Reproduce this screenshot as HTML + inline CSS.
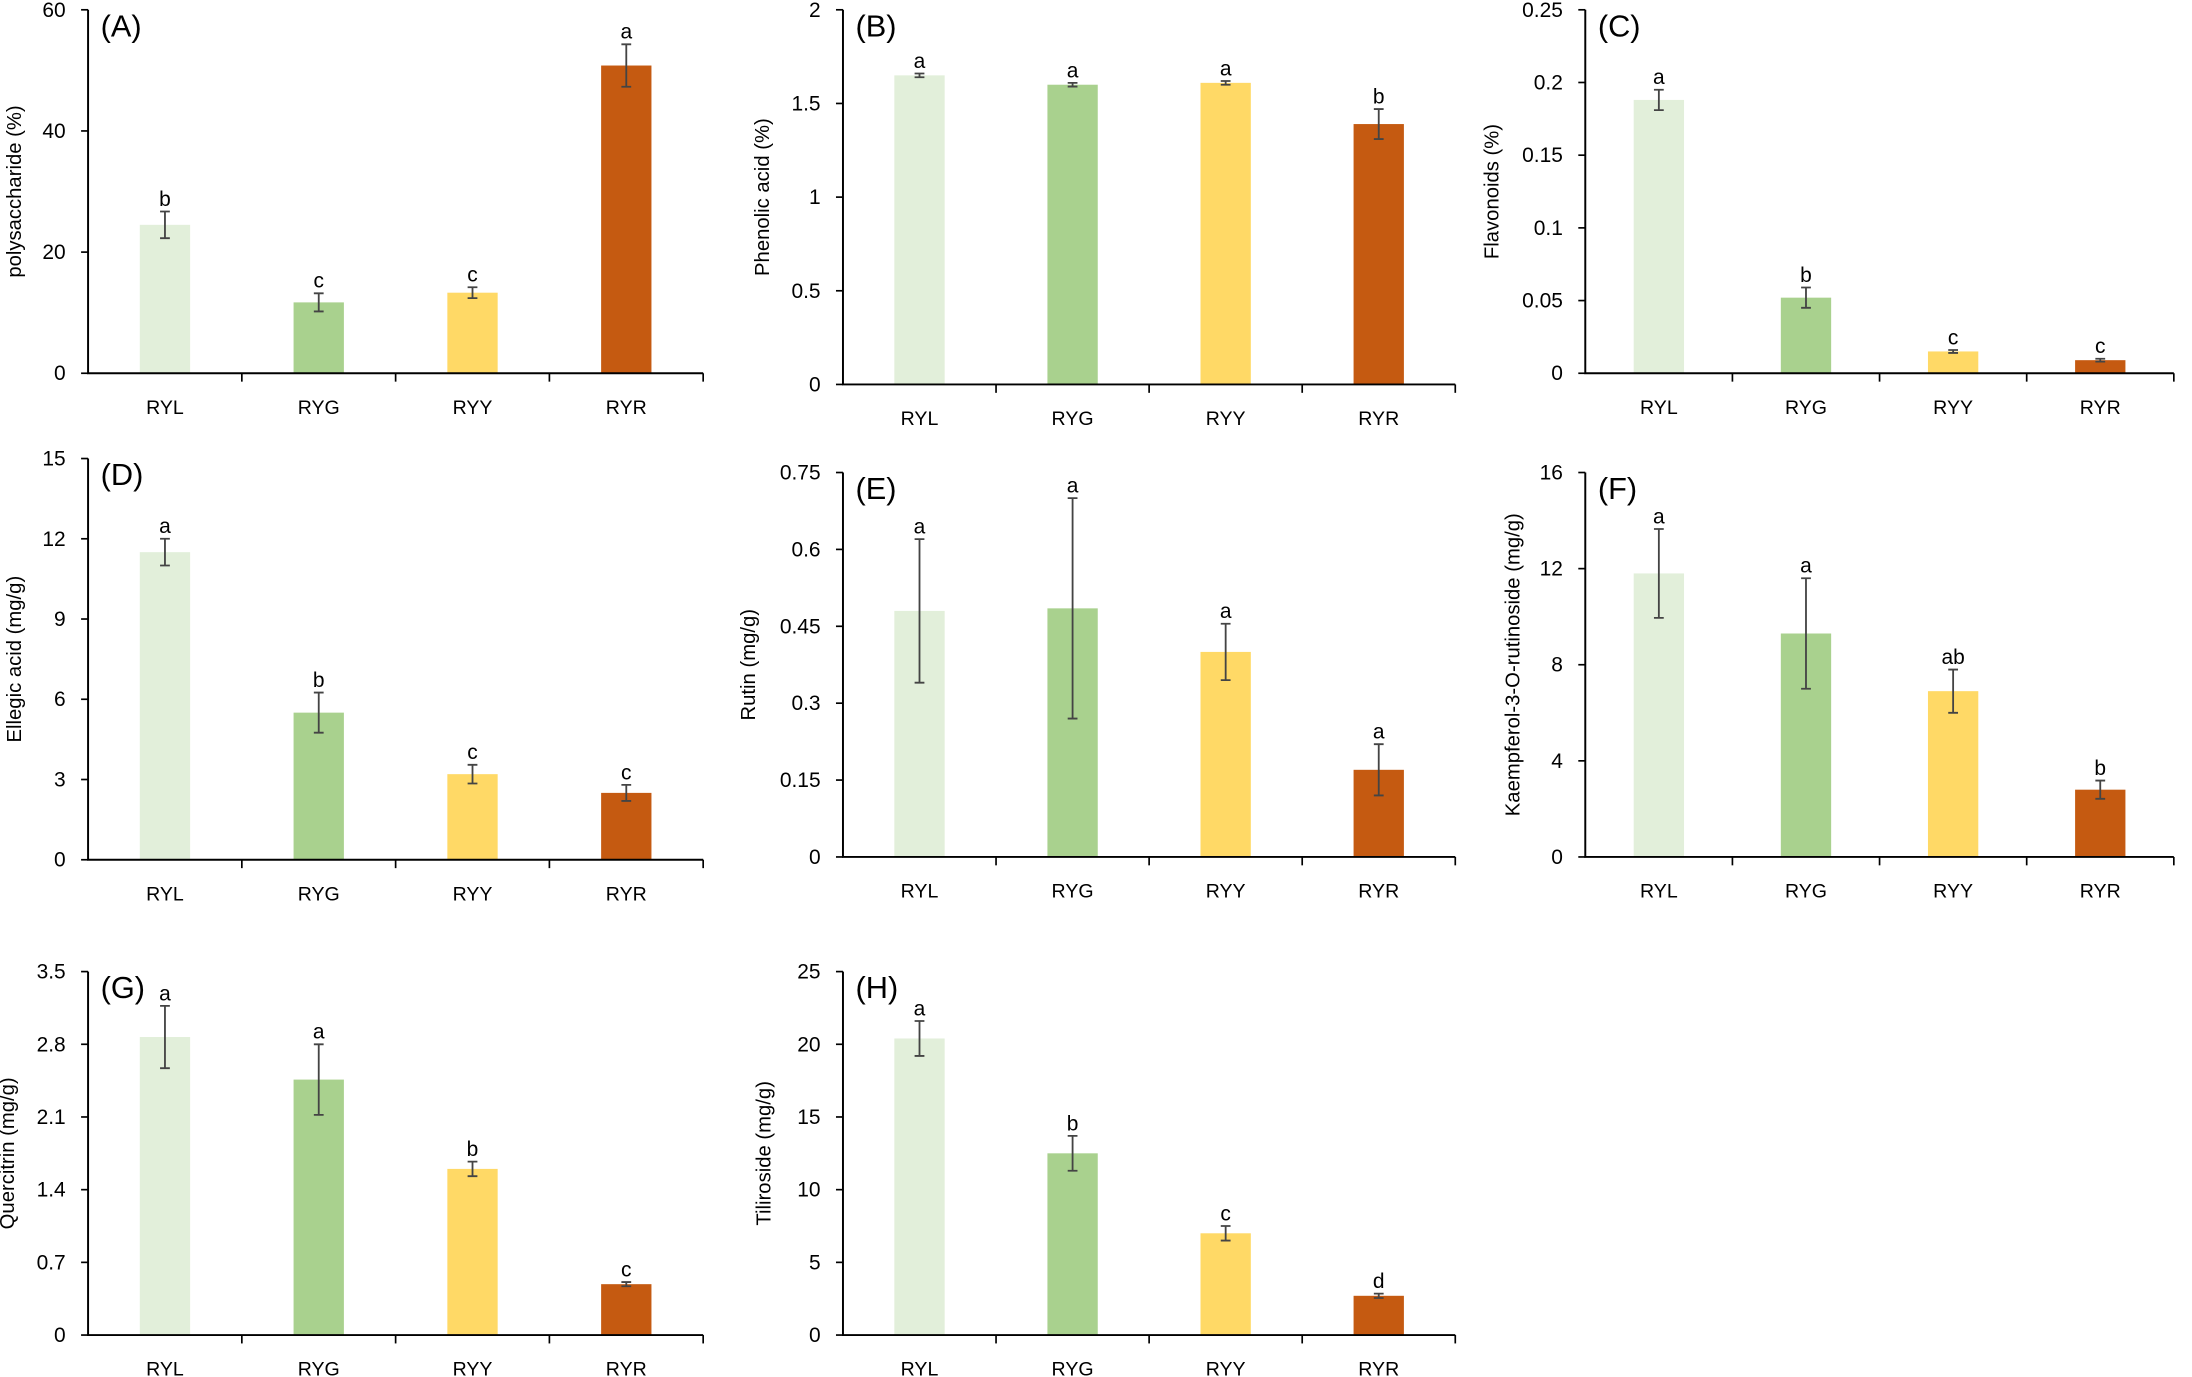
<!DOCTYPE html>
<html><head><meta charset="utf-8"><style>
html,body{margin:0;padding:0;background:#fff}
svg{display:block}
text{font-family:"Liberation Sans",sans-serif;fill:#000}
</style></head><body>
<svg id="fig" width="2192" height="1377" viewBox="0 0 1568 985" xmlns="http://www.w3.org/2000/svg"></svg>
<script>
const categories = ["RYL","RYG","RYY","RYR"];
const colors = ["#e2efda","#a9d18e","#ffd966","#c55a11"];
const labelsP = ["(A)","(B)","(C)","(D)","(E)","(F)","(G)","(H)"];
const titlesP = ["polysaccharide (%)","Phenolic acid (%)","Flavonoids (%)","Ellegic acid (mg/g)","Rutin (mg/g)","Kaempferol-3-O-rutinoside (mg/g)","Quercitrin (mg/g)","Tiliroside (mg/g)"];
const meansA=[24.5,11.7,13.3,50.8], errA=[2.2,1.5,0.9,3.5], letA=["b","c","c","a"], ticksA=[0,20,40,60];
const meansB=[1.65,1.60,1.61,1.39], errB=[0.01,0.01,0.01,0.08], letB=["a","a","a","b"], ticksB=[0,0.5,1,1.5,2];
const meansC=[0.188,0.052,0.015,0.009], errC=[0.007,0.007,0.001,0.001], letC=["a","b","c","c"], ticksC=[0,0.05,0.1,0.15,0.2,0.25];
const meansD=[11.5,5.5,3.2,2.5], errD=[0.5,0.75,0.35,0.3], letD=["a","b","c","c"], ticksD=[0,3,6,9,12,15];
const meansE=[0.48,0.485,0.40,0.17], errE=[0.14,0.215,0.055,0.05], letE=["a","a","a","a"], ticksE=[0,0.15,0.3,0.45,0.6,0.75];
const meansF=[11.8,9.3,6.9,2.8], errF=[1.85,2.3,0.9,0.38], letF=["a","a","ab","b"], ticksF=[0,4,8,12,16];
const meansG=[2.87,2.46,1.6,0.49], errG=[0.3,0.34,0.07,0.02], letG=["a","a","b","c"], ticksG=[0,0.7,1.4,2.1,2.8,3.5];
const meansH=[20.4,12.5,7.0,2.7], errH=[1.2,1.2,0.5,0.15], letH=["a","b","c","d"], ticksH=[0,5,10,15,20,25];

const svg=document.getElementById('fig');
const NS="http://www.w3.org/2000/svg";
function mk(tag,attrs,parent){const e=document.createElementNS(NS,tag);for(const k in attrs)e.setAttribute(k,attrs[k]);parent.appendChild(e);return e;}

const boxes=[[63,7,267,503],[603,7,275,1041],[1134,7,267,1555],
             [63,328,615,503],[603,338,613,1041],[1134,338,613,1555],
             [63,695,955,503],[603,695,955,1041]];
const titleOff=[48,53,62,48,63,47,53,52];
const data=[[meansA,errA,letA,ticksA],[meansB,errB,letB,ticksB],[meansC,errC,letC,ticksC],[meansD,errD,letD,ticksD],
            [meansE,errE,letE,ticksE],[meansF,errF,letF,ticksF],[meansG,errG,letG,ticksG],[meansH,errH,letH,ticksH]];

data.forEach((d,pi)=>{
  const [means,errs,lets,ticks]=d;
  const [x0,y0,yb,x1]=boxes[pi];
  const g=mk('g',{},svg);
  
  
  const maxV=ticks[ticks.length-1];
  const yS=v=>yb-(v/maxV)*(yb-y0);
  const cw=(x1-x0)/categories.length;
  const xS=i=>x0+cw*(i+0.5);
  const bw=36;
  means.forEach((v,i)=>{
    const r=mk('rect',{x:xS(i)-bw/2,y:yS(v),width:bw,height:yb-yS(v),fill:colors[i]},g);
    
    
    const e=errs[i], cx=xS(i);
    const eb=mk('path',{d:`M${cx},${yS(v+e)}V${yS(v-e)}M${cx-3.5},${yS(v+e)}H${cx+3.5}M${cx-3.5},${yS(v-e)}H${cx+3.5}`,stroke:'#444','stroke-width':1.3,fill:'none'},g);
    
    
    const t=mk('text',{x:cx,y:yS(v+e)-4,'text-anchor':'middle','font-size':15},g);
    t.textContent=lets[i];
    
    
    const xl=mk('text',{x:cx,y:yb+29,'text-anchor':'middle','font-size':14},g);
    xl.textContent=categories[i];
    
    
  });
  const ax=mk('path',{d:`M${x0},${y0}V${yb}H${x1}`,stroke:'#000','stroke-width':1.4,fill:'none'},g);
  
  
  for(let i=1;i<=categories.length;i++){
    mk('line',{x1:x0+cw*i,x2:x0+cw*i,y1:yb,y2:yb+6,stroke:'#000','stroke-width':1.2},g);
  }
  ticks.forEach(t=>{
    mk('line',{x1:x0-5,x2:x0,y1:yS(t),y2:yS(t),stroke:'#000','stroke-width':1.2},g);
    const tl=mk('text',{x:x0-16,y:yS(t)+5,'text-anchor':'end','font-size':15},g);
    tl.textContent=String(t);
    
    
  });
  const yt=mk('text',{transform:`translate(${x0-titleOff[pi]},${(y0+yb)/2}) rotate(-90)`,'text-anchor':'middle','font-size':14.5},g);
  yt.textContent=titlesP[pi];
  
  
  const pl=mk('text',{x:x0+9,y:y0+19,'font-size':22},g);
  pl.textContent=labelsP[pi];
  
  
});
</script>
</body></html>
